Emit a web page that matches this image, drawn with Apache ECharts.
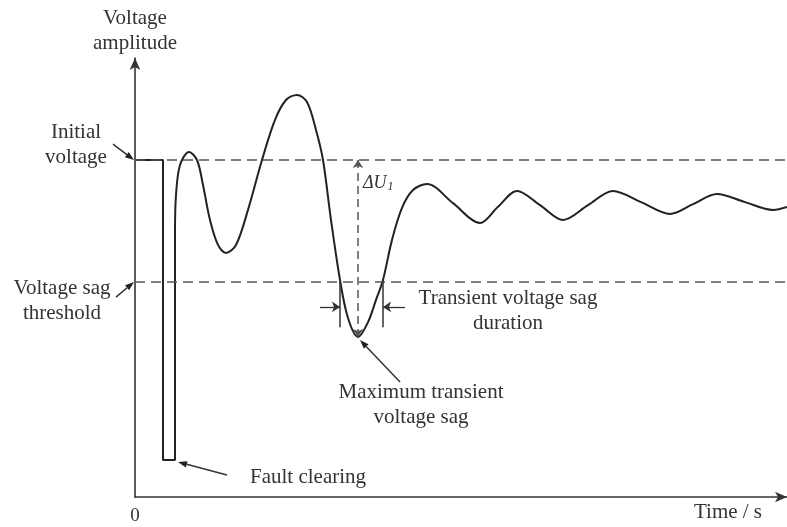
<!DOCTYPE html>
<html><head><meta charset="utf-8">
<script src="https://cdn.jsdelivr.net/npm/echarts@6/dist/echarts.min.js"></script>
<style>html,body{margin:0;padding:0;background:#fff}#c{width:787px;height:527px}</style>
</head><body><div id="c"></div>
<script>
// Time (s, schematic) and voltage (p.u. of initial voltage)
const stepX = [0, 0.28, 0.28, 0.40, 0.40];
const stepY = [1.0, 1.0, 0.110, 0.110, 0.792];
const curveX = [0.40, 0.41, 0.45, 0.54, 0.62, 0.68, 0.75, 0.83, 0.91, 1.01, 1.13, 1.27, 1.40, 1.51, 1.62, 1.72, 1.81, 1.88, 1.96, 2.05, 2.13, 2.23, 2.33, 2.41, 2.48, 2.57, 2.67, 2.78, 2.92, 3.18, 3.45, 3.63, 3.82, 4.05, 4.28, 4.53, 4.78, 5.06, 5.35, 5.58, 5.82, 6.10, 6.38, 6.52];
const curveY = [0.792, 0.896, 0.985, 1.024, 1.000, 0.926, 0.822, 0.748, 0.724, 0.748, 0.852, 1.000, 1.119, 1.178, 1.193, 1.172, 1.089, 1.000, 0.822, 0.644, 0.531, 0.475, 0.519, 0.585, 0.644, 0.763, 0.858, 0.911, 0.929, 0.872, 0.813, 0.861, 0.908, 0.866, 0.822, 0.866, 0.908, 0.875, 0.840, 0.869, 0.899, 0.875, 0.852, 0.861];
const initialVoltage = 1.0;
const sagThreshold = 0.644;
const sagMinPoint = [2.23, 0.475];
const sagStart = 2.05;
const sagEnd = 2.48;
const xMax = 6.52;
const yMax = 1.3027;
const xTickLabels = ['0'];

const FONT = '"Liberation Serif", "Times New Roman", serif';
const TXT = '#333';
const chart = echarts.init(document.getElementById('c'), null, {renderer: 'canvas'});

const durY = 0.564, durBottom = 0.504;
chart.setOption({
  animation: false,
  grid: {left: 135, right: 0, top: 58, bottom: 30},
  xAxis: {
    type: 'value', min: 0, max: xMax,
    axisLine: {show: true, symbol: ['none', 'arrow'], symbolSize: [8, 12], lineStyle: {color: '#333', width: 1.6}},
    axisTick: {show: false}, splitLine: {show: false},
    axisLabel: {show: true, showMinLabel: true, showMaxLabel: false, margin: 10,
      formatter: v => (v === 0 ? xTickLabels[0] : ''), fontFamily: FONT, fontSize: 19, color: TXT}
  },
  yAxis: {
    type: 'value', min: 0, max: yMax,
    name: 'Voltage\namplitude', nameLocation: 'end', nameGap: 2,
    nameTextStyle: {fontFamily: FONT, fontSize: 21, color: TXT, lineHeight: 25, align: 'center', verticalAlign: 'bottom'},
    axisLine: {show: true, symbol: ['none', 'arrow'], symbolSize: [8, 12], lineStyle: {color: '#333', width: 1.6}},
    axisTick: {show: false}, splitLine: {show: false}, axisLabel: {show: false}
  },
  series: [
    {
      type: 'line', silent: true, symbol: 'none', z: 3,
      data: stepX.map((x, i) => [x, stepY[i]]),
      lineStyle: {color: '#222', width: 2},
      markLine: {
        silent: true, symbol: 'none', label: {show: false},
        lineStyle: {type: [10, 6], color: '#555', width: 1.5},
        data: [{yAxis: initialVoltage}, {yAxis: sagThreshold}]
      }
    },
    {
      type: 'line', silent: true, symbol: 'none', z: 3,
      smooth: 0.33,
      data: curveX.map((x, i) => [x, curveY[i]]),
      lineStyle: {color: '#222', width: 2},
      markLine: {
        silent: true, label: {show: false}, symbolSize: 8,
        data: [
          [{coord: [sagMinPoint[0], sagMinPoint[1]], symbol: 'arrow', lineStyle: {type: [8, 5], color: '#555', width: 1.5}},
           {coord: [sagMinPoint[0], initialVoltage], symbol: 'arrow'}],
          [{coord: [sagStart, sagThreshold], symbol: 'none', lineStyle: {type: 'solid', color: '#333', width: 1.5}},
           {coord: [sagStart, durBottom], symbol: 'none'}],
          [{coord: [sagEnd, sagThreshold], symbol: 'none', lineStyle: {type: 'solid', color: '#333', width: 1.5}},
           {coord: [sagEnd, durBottom], symbol: 'none'}],
          [{coord: [sagStart - 0.20, durY], symbol: 'none', lineStyle: {type: 'solid', color: '#333', width: 1.3}},
           {coord: [sagStart, durY], symbol: 'arrow'}],
          [{coord: [sagEnd + 0.22, durY], symbol: 'none', lineStyle: {type: 'solid', color: '#333', width: 1.3}},
           {coord: [sagEnd, durY], symbol: 'arrow'}]
        ]
      }
    }
  ]
});

function px(p) { return chart.convertToPixel({gridIndex: 0}, p); }
function pointer(from, to) {
  const a = px(from), b = px(to);
  const dx = b[0] - a[0], dy = b[1] - a[1];
  const len = Math.hypot(dx, dy), ux = dx / len, uy = dy / len;
  const L = 9, W = 3.2;
  const bx = b[0] - ux * L, by = b[1] - uy * L;
  return [
    {type: 'line', silent: true, z: 10, shape: {x1: a[0], y1: a[1], x2: bx, y2: by}, style: {stroke: '#333', lineWidth: 1.5}},
    {type: 'polygon', silent: true, z: 10, shape: {points: [[b[0], b[1]], [bx - uy * W, by + ux * W], [bx + uy * W, by - ux * W]]}, style: {fill: '#222'}}
  ];
}
function label(text, p, align) {
  const q = px(p);
  return {type: 'text', silent: true, z: 10, x: q[0], y: q[1],
    style: {text: text, font: '21px ' + FONT, fill: TXT, align: align || 'center', verticalAlign: 'middle', lineHeight: 25}};
}
const g = [];
g.push(...pointer([-0.22, 1.047], [-0.01, 1.0]));
g.push(...pointer([-0.19, 0.593], [-0.01, 0.638]));
g.push(...pointer([0.92, 0.065], [0.43, 0.104]));
g.push(...pointer([2.65, 0.341], [2.25, 0.466]));
g.push(label('Initial\nvoltage', [-0.59, 1.045]));
g.push(label('Voltage sag\nthreshold', [-0.73, 0.582]));
g.push(label('Fault clearing', [1.15, 0.059], 'left'));
g.push(label('Maximum transient\nvoltage sag', [2.86, 0.273]));
g.push(label('Transient voltage sag\nduration', [3.73, 0.553]));
g.push(label('Time / s', [5.93, -0.047]));
const dq = px([2.28, 0.932]);
g.push({type: 'text', silent: true, z: 10, x: dq[0], y: dq[1],
  style: {text: '{a|ΔU}{b|1}', verticalAlign: 'middle', align: 'left',
    rich: {a: {font: 'italic 18px ' + FONT, fill: TXT}, b: {font: 'italic 12px ' + FONT, fill: TXT, padding: [8, 0, 0, 1]}}}});
chart.setOption({graphic: g});
</script></body></html>
